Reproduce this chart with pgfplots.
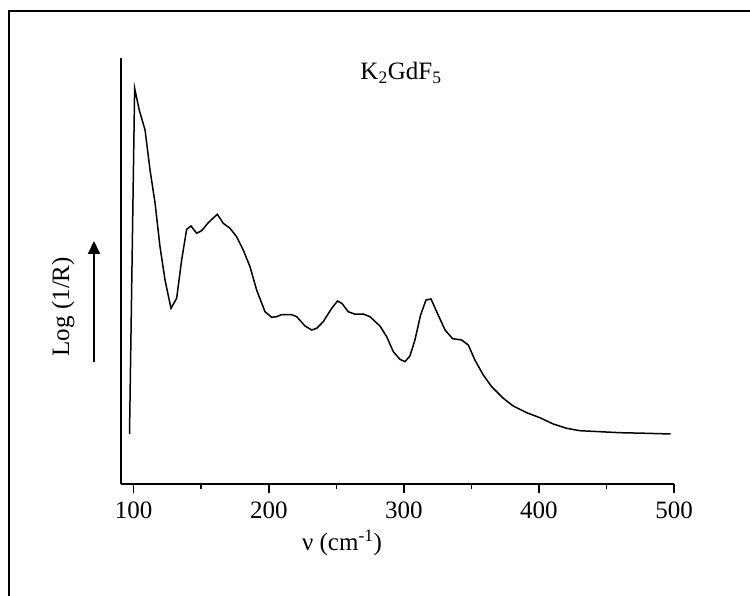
\documentclass[border=0pt]{standalone}
\usepackage{pgfplots}
\pgfplotsset{compat=1.18}
\usepackage{fontspec}
\setmainfont{Liberation Serif}
\usetikzlibrary{arrows.meta}
\begin{document}
\fontsize{25}{29}\selectfont
\begin{tikzpicture}[x=1pt,y=1pt]
\useasboundingbox (0,0) rectangle (750,596);
% outer frame (top and left edges visible)
\draw[line width=2pt] (8.7,0) -- (8.7,585) -- (760,585);
\begin{axis}[
  at={(121pt,112pt)}, anchor=south west,
  scale only axis, width=553pt, height=426pt,
  xmin=90.6, xmax=500, ymin=0, ymax=426,
  axis x line*=bottom, axis y line*=left,
  axis line style={line width=1.7pt},
  xtick={100,200,300,400,500},
  minor xtick={150,250,350,450},
  ytick=\empty,
  tick align=outside,
  major tick length=9pt, minor tick length=5pt,
  every tick/.style={line width=1.5pt, black},
  tick label style={font=\fontsize{25}{29}\selectfont},
  /pgf/number format/assume math mode=true,
  clip=false,
]
\addplot[line width=1.5pt, black] coordinates {
(96.9,50) (100.7,395.7) (104.1,374) (108.4,354) (112.1,314) (115.8,281)
(119.5,237) (123.2,204) (127.6,175.7) (131.8,185.7) (135.5,224) (139.2,254.7)
(142.4,258) (146.6,250.7) (150.3,253.3) (155.2,261.3) (161.9,269.7) (166.3,260.7)
(171.3,255.7) (176.2,247.3) (181.1,234) (186.1,217.3) (191.0,194) (197.2,172.3)
(202.1,166.7) (205.8,167.3) (209.5,169.3) (217.0,169.3) (220.7,167.3) (226.8,158)
(231.8,154) (235.5,155.7) (240.3,162.3) (246.6,175.7) (250.9,183) (254.2,180.5)
(258.8,172.3) (263.8,169.8) (269.9,170) (274.9,167.3) (282.3,158) (287.3,147.3)
(292.2,132.3) (297.1,124.7) (300.8,122.3) (304.5,128) (308.2,144) (312.4,169)
(316.4,184) (320.1,185) (324.3,172.3) (330.5,154) (336.1,145.3) (342.8,144)
(347.7,139) (352.6,124) (358.8,109) (365.0,97.3) (373.6,85.7) (381.0,78)
(390.9,71.3) (400.7,66.3) (410.6,60) (420.5,55.7) (430.3,53.3) (445.1,52.3)
(459.9,51.3) (479.7,50.7) (497.5,50)
};
\end{axis}
% title
\node[anchor=base, inner sep=0pt] at (401,516) {K\textsubscript{2}GdF\textsubscript{5}};
% x label
\node[anchor=base, inner sep=0pt] at (342,45) {ν (cm\textsuperscript{-1})};
% y label
\node[anchor=base, rotate=90, inner sep=0pt] at (69,289.3) {Log (1/R)};
% arrow
\draw[line width=2pt, -{Triangle[width=12pt,length=13pt]}] (94,234) -- (94,355);
\end{tikzpicture}
\end{document}
